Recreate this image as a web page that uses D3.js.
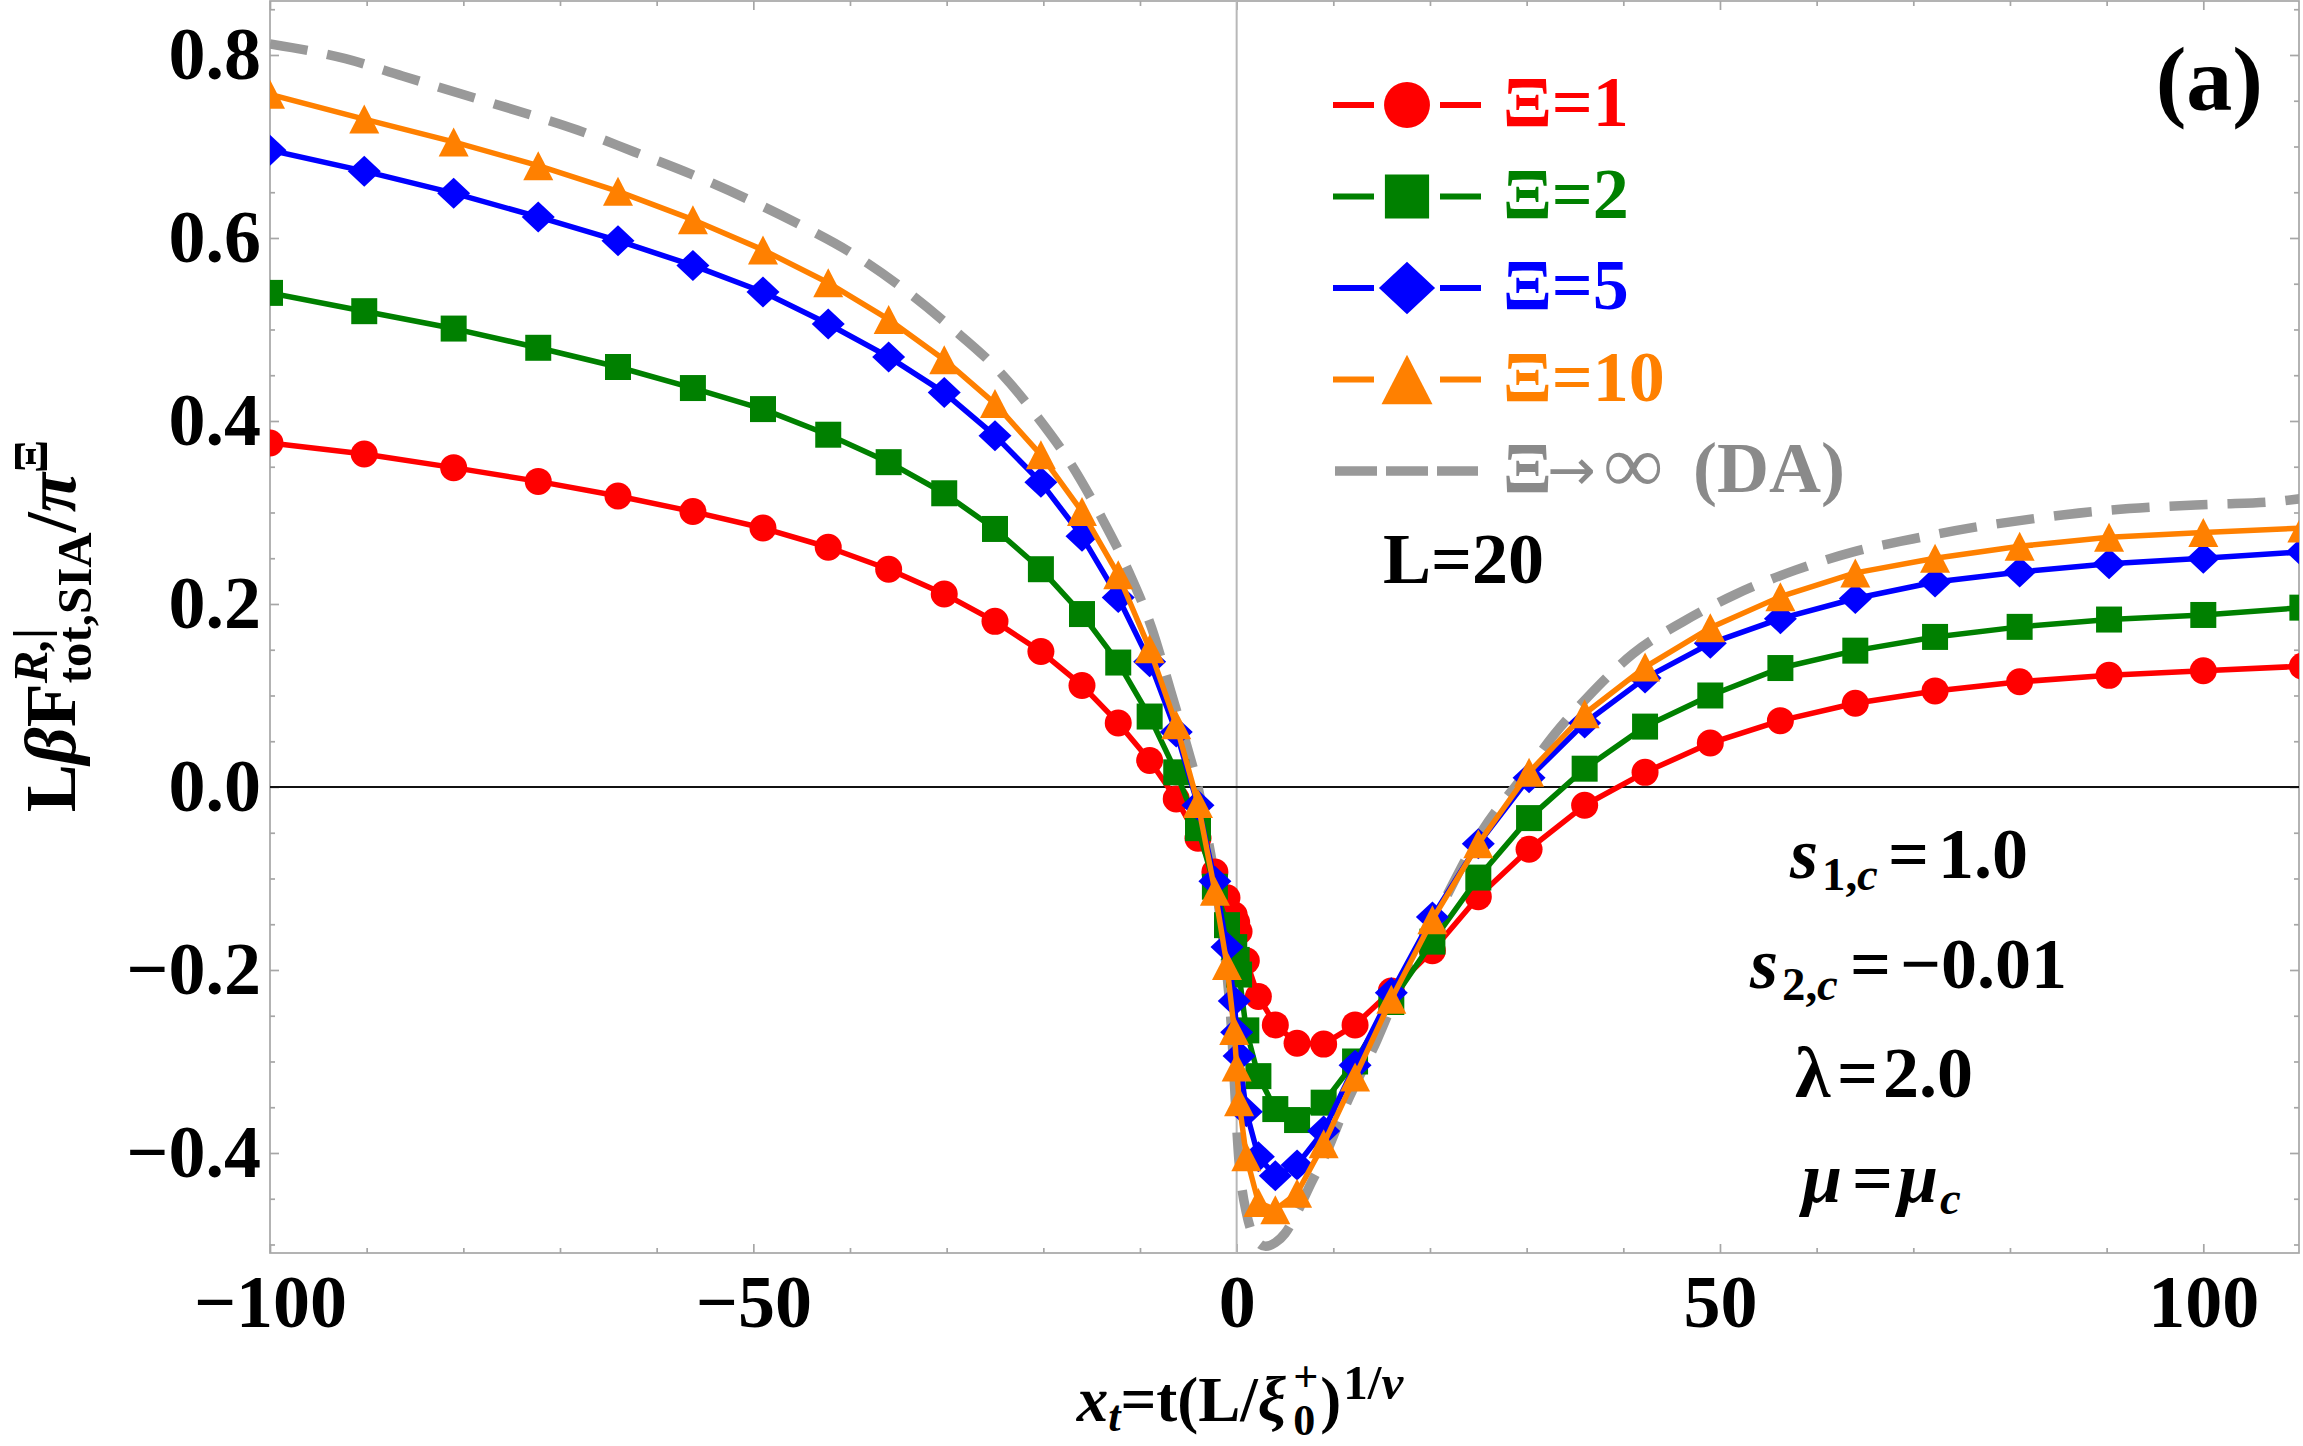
<!DOCTYPE html>
<html lang="en">
<head>
<meta charset="UTF-8">
<title>Scaling function of the free energy, L=20</title>
<script src="https://d3js.org/d3.v7.min.js"></script>
<style>
  body { margin: 0; background: #fff; }
  svg { display: block; }
</style>
</head>
<body>
<svg id="chart" width="2303" height="1446"></svg>
<script>
// x_t grid (shared by all four finite-Xi series)
const xt = [-100, -90.25, -81, -72.25, -64, -56.25, -49, -42.25, -36, -30.25,
  -25, -20.25, -16, -12.25, -9, -6.25, -4, -2.25, -1, -0.25,
  0,
  0.25, 1, 2.25, 4, 6.25, 9, 12.25, 16, 20.25, 25,
  30.25, 36, 42.25, 49, 56.25, 64, 72.25, 81, 90.25, 100,
  110.25];

const xi1 = [0.376, 0.364, 0.349, 0.334, 0.318, 0.301, 0.283, 0.262, 0.238, 0.211,
  0.181, 0.148, 0.111, 0.070, 0.029, -0.013, -0.056, -0.093, -0.121, -0.140,
  -0.148,
  -0.158, -0.190, -0.229, -0.260, -0.280, -0.281, -0.260, -0.223, -0.179, -0.120,
  -0.068, -0.020, 0.016, 0.048, 0.0725, 0.0915, 0.105, 0.115, 0.122, 0.127,
  0.132];

const xi2 = [0.540, 0.520, 0.501, 0.480, 0.459, 0.436, 0.413, 0.385, 0.355, 0.321,
  0.282, 0.238, 0.189, 0.136, 0.077, 0.016, -0.045, -0.109, -0.151, -0.175,
  -0.189,
  -0.205, -0.266, -0.316, -0.352, -0.364, -0.345, -0.300, -0.235, -0.169, -0.099,
  -0.034, 0.020, 0.066, 0.100, 0.130, 0.149, 0.164, 0.175, 0.183, 0.188,
  0.196];

const xi5 = [0.696, 0.673, 0.649, 0.623, 0.597, 0.570, 0.541, 0.506, 0.470, 0.431,
  0.384, 0.333, 0.274, 0.207, 0.137, 0.060, -0.020, -0.103, -0.175, -0.234,
  -0.268,
  -0.294, -0.355, -0.404, -0.425, -0.413, -0.376, -0.304, -0.225, -0.142, -0.062,
  0.010, 0.070, 0.119, 0.157, 0.184, 0.206, 0.224, 0.235, 0.244, 0.250,
  0.257];

const xi10 = [0.757, 0.730, 0.705, 0.679, 0.651, 0.620, 0.587, 0.551, 0.511, 0.467,
  0.419, 0.363, 0.301, 0.232, 0.151, 0.068, -0.018, -0.114, -0.195, -0.266,
  -0.306,
  -0.344, -0.404, -0.454, -0.462, -0.444, -0.390, -0.317, -0.232, -0.145, -0.062,
  0.016, 0.080, 0.131, 0.174, 0.208, 0.234, 0.250, 0.263, 0.273, 0.278,
  0.283];

// Xi -> infinity (DA) curve
const daX = [-100, -92.2, -86.3, -80.1, -74.1, -68.2, -62.3, -56.5, -50.7, -45.1,
  -39.6, -34.4, -29.5, -24.8, -20.8, -17.2, -14.0, -11.2, -8.8, -6.8,
  -5.1, -4, -3, -2.25, -1.5, -1, -0.5, -0.25, 0, 0.25,
  0.5, 1, 1.5, 2.25, 3, 4, 5, 6.25, 7.7, 9.4,
  11.2, 14.5, 17, 20.7, 25.3, 29.8, 32.9, 36.4, 41.0, 46.2,
  51.5, 57.8, 63.8, 69.9, 76.1, 82.3, 88.6, 94.9, 101.2, 107.5, 110];
const daY = [0.812, 0.796, 0.777, 0.757, 0.738, 0.718, 0.694, 0.670, 0.643, 0.614,
  0.582, 0.544, 0.502, 0.457, 0.407, 0.354, 0.295, 0.236, 0.174, 0.104,
  0.043, 0.0, -0.055, -0.10, -0.16, -0.205, -0.27, -0.32, -0.37, -0.41,
  -0.435, -0.465, -0.485, -0.498, -0.502, -0.498, -0.488, -0.465, -0.433, -0.397,
  -0.350, -0.277, -0.215, -0.140, -0.0495, 0.0139, 0.0578, 0.0992, 0.1456, 0.1808,
  0.210, 0.237, 0.257, 0.271, 0.2834, 0.293, 0.301, 0.306, 0.309, 0.312, 0.315];

const seriesNames = ["Ξ=1", "Ξ=2", "Ξ=5", "Ξ=10"];
const seriesColors = ["#ff0000", "#008000", "#0000ff", "#ff8000"];
const seriesShapes = ["circle", "square", "diamond", "triangle"];
const seriesValues = [xi1, xi2, xi5, xi10];

const xMajor = [-100, -50, 0, 50, 100];
const yMajor = [-0.4, -0.2, 0.0, 0.2, 0.4, 0.6, 0.8];

const FONT = "'Liberation Serif', 'Times New Roman', serif";
const frameColor = "#a6a6a6";
const daColor = "#999999";

const svg = d3.select("#chart")
  .attr("font-family", FONT)
  .attr("font-weight", "bold");

const pLeft = 270, pRight = 2299, pTop = 1, pBottom = 1253;

const x = d3.scaleLinear().domain([-100, 109.9]).range([pLeft, pRight]);
const y = d3.scaleLinear().domain([-0.5093, 0.8590]).range([pBottom, pTop]);

// frame
svg.append("rect")
  .attr("x", pLeft).attr("y", pTop)
  .attr("width", pRight - pLeft).attr("height", pBottom - pTop)
  .attr("fill", "none").attr("stroke", frameColor).attr("stroke-width", 1.7);

function styleAxis(g) {
  g.attr("font-family", FONT).attr("font-size", 74).attr("font-weight", "bold");
  g.select(".domain").remove();
  g.selectAll("line").attr("stroke", frameColor).attr("stroke-width", 1.7);
  g.selectAll("text").attr("fill", "#000");
}

const fmtX = d3.format("d");
const fmtY = d3.format(".1f");
const xMinor = d3.range(-100, 110, 10).filter(v => !xMajor.includes(v));
const yMinor = d3.range(-0.5, 0.86, 0.05).filter(v => !yMajor.some(m => Math.abs(m - v) < 1e-6));

// bottom / top
svg.append("g").attr("transform", `translate(0,${pBottom})`)
  .call(d3.axisBottom(x).tickValues(xMajor).tickSize(-9).tickPadding(21).tickFormat(fmtX))
  .call(styleAxis);
svg.append("g").attr("transform", `translate(0,${pBottom})`)
  .call(d3.axisBottom(x).tickValues(xMinor).tickSize(-5).tickFormat(""))
  .call(styleAxis);
svg.append("g").attr("transform", `translate(0,${pTop})`)
  .call(d3.axisTop(x).tickValues(xMajor).tickSize(-9).tickFormat(""))
  .call(styleAxis);
svg.append("g").attr("transform", `translate(0,${pTop})`)
  .call(d3.axisTop(x).tickValues(xMinor).tickSize(-5).tickFormat(""))
  .call(styleAxis);

// left / right
svg.append("g").attr("transform", `translate(${pLeft},0)`)
  .call(d3.axisLeft(y).tickValues(yMajor).tickSize(-9).tickPadding(9).tickFormat(fmtY))
  .call(styleAxis);
svg.append("g").attr("transform", `translate(${pLeft},0)`)
  .call(d3.axisLeft(y).tickValues(yMinor).tickSize(-5).tickFormat(""))
  .call(styleAxis);
svg.append("g").attr("transform", `translate(${pRight},0)`)
  .call(d3.axisRight(y).tickValues(yMajor).tickSize(-9).tickFormat(""))
  .call(styleAxis);
svg.append("g").attr("transform", `translate(${pRight},0)`)
  .call(d3.axisRight(y).tickValues(yMinor).tickSize(-5).tickFormat(""))
  .call(styleAxis);

// zero axes
svg.append("line")
  .attr("x1", x(0)).attr("x2", x(0)).attr("y1", pTop).attr("y2", pBottom)
  .attr("stroke", "#b8b8b8").attr("stroke-width", 2);
svg.append("line")
  .attr("x1", pLeft).attr("x2", pRight).attr("y1", y(0)).attr("y2", y(0))
  .attr("stroke", "#111").attr("stroke-width", 2);

// markers
function markerPath(shape, k) {
  if (shape === "circle") return d3.symbol(d3.symbolCircle, Math.PI * (13.5 * k) ** 2)();
  if (shape === "square") { const h = 13 * k; return `M${-h},${-h}H${h}V${h}H${-h}Z`; }
  if (shape === "diamond") { const w = 16.5 * k, h = 15.5 * k; return `M0,${-h}L${w},0L0,${h}L${-w},0Z`; }
  const w = 15 * k, h = 14.5 * k;
  return `M0,${-h}L${w},${h}L${-w},${h}Z`;
}

svg.append("clipPath").attr("id", "plotClip")
  .append("rect").attr("x", pLeft).attr("y", pTop)
  .attr("width", pRight - pLeft).attr("height", pBottom - pTop);

const plot = svg.append("g").attr("clip-path", "url(#plotClip)");

// dashed DA curve
const daLine = d3.line().x((d, i) => x(daX[i])).y(d => y(d)).curve(d3.curveMonotoneX);
plot.append("path")
  .datum(daY)
  .attr("d", daLine)
  .attr("fill", "none")
  .attr("stroke", daColor)
  .attr("stroke-width", 9.5)
  .attr("stroke-dasharray", "38,20");

const line = d3.line().x((d, i) => x(xt[i])).y(d => y(d));

seriesValues.forEach((vals, s) => {
  const g = plot.append("g");
  g.append("path")
    .datum(vals)
    .attr("d", line)
    .attr("fill", "none")
    .attr("stroke", seriesColors[s])
    .attr("stroke-width", 5.5)
    .attr("stroke-linejoin", "round");
  g.selectAll("path.mk")
    .data(vals)
    .join("path")
    .attr("class", "mk")
    .attr("d", markerPath(seriesShapes[s], 1))
    .attr("transform", (d, i) => `translate(${x(xt[i])},${y(d)})`)
    .attr("fill", seriesColors[s]);
});

// legend
const legendBase = [126, 217.5, 309, 400.5, 492];
const legend = svg.append("g");
seriesNames.forEach((name, s) => {
  const cy = legendBase[s] - 21;
  const row = legend.append("g");
  row.append("line").attr("x1", 1333).attr("x2", 1374).attr("y1", cy).attr("y2", cy)
    .attr("stroke", seriesColors[s]).attr("stroke-width", 6);
  row.append("line").attr("x1", 1440).attr("x2", 1481).attr("y1", cy).attr("y2", cy)
    .attr("stroke", seriesColors[s]).attr("stroke-width", 6);
  row.append("path").attr("d", markerPath(seriesShapes[s], 1.7))
    .attr("transform", `translate(1407,${cy})`).attr("fill", seriesColors[s]);
  row.append("text").attr("x", 1503).attr("y", legendBase[s])
    .attr("font-size", 72).attr("fill", seriesColors[s]).text(name);
});
{
  const cy = legendBase[4] - 21;
  const b = legendBase[4];
  legend.append("line").attr("x1", 1335).attr("x2", 1478).attr("y1", cy).attr("y2", cy)
    .attr("stroke", daColor).attr("stroke-width", 9.5).attr("stroke-dasharray", "42,9");
  const lg = legend.append("g").attr("fill", "#8a8a8a");
  lg.append("text").attr("x", 1503).attr("y", b).attr("font-size", 72).text("Ξ");
  lg.append("text").attr("x", 1547).attr("y", b - 2).attr("font-size", 58)
    .attr("font-family", "'DejaVu Sans', sans-serif").attr("font-weight", "normal").text("→");
  lg.append("text").attr("x", 1604).attr("y", b).attr("font-size", 82).text("∞");
  lg.append("text").attr("x", 1693).attr("y", b).attr("font-size", 72).text("(DA)");
}

svg.append("text").attr("x", 1383).attr("y", 583).attr("font-size", 72).text("L=20");
svg.append("text").attr("x", 2263).attr("y", 110).attr("font-size", 92)
  .attr("text-anchor", "end").text("(a)");

// rich text helper: runs of text with sub/superscripts
function rich(parent, parts, size) {
  const g = parent.append("g");
  let pos = 0, pend = null;
  parts.forEach(p => {
    let px = (pend ? pend.x : pos) + (p.gap || 0);
    if (p.at !== undefined) px = p.at;
    const t = g.append("text")
      .attr("x", px).attr("y", p.dy || 0)
      .attr("font-size", size * (p.s || 1))
      .attr("font-style", p.i ? "italic" : null)
      .text(p.t);
    const w = t.node().getComputedTextLength();
    if (p.stack) pend = {x: px, w: w};
    else if (pend) { pos = px + Math.max(w, pend.w); pend = null; }
    else pos = px + w;
  });
  return {g: g, width: pos};
}

// y label
{
  const wrap = svg.append("g").attr("transform", "translate(75,626) rotate(-90)");
  const r = rich(wrap, [
    {t: "L"}, {t: "β", i: 1}, {t: "F"},
    {t: "R,|", s: 0.68, dy: -28, i: 1, stack: 1},
    {t: "tot,SIA", s: 0.68, dy: 16},
    {t: "/"}, {t: "π", i: 1},
    {t: "Ξ", s: 0.68, dy: -28}
  ], 72);
  r.g.attr("transform", `translate(${-r.width / 2},0)`);
}

// x label
{
  const wrap = svg.append("g").attr("transform", "translate(1240,1421)");
  const r = rich(wrap, [
    {t: "x", i: 1}, {t: "t", i: 1, s: 0.7, dy: 10},
    {t: "=t(L/"}, {t: "ξ", i: 1},
    {t: "+", s: 0.7, dy: -30, stack: 1, gap: 7},
    {t: "0", s: 0.7, dy: 14},
    {t: ")", gap: 2},
    {t: "1/", s: 0.78, dy: -22, gap: 2}, {t: "ν", i: 1, s: 0.78, dy: -22}
  ], 63);
  r.g.attr("transform", `translate(${-r.width / 2},0)`);
}

// parameter annotations (part offsets)
const notes = [
  {x: 1790, y: 878, parts: [{t: "s", i: 1, at: 0}, {t: "1,", s: 0.65, dy: 12, at: 32}, {t: "c", i: 1, s: 0.65, dy: 12}, {t: "=", at: 98}, {t: "1.0", at: 148}]},
  {x: 1750, y: 988, parts: [{t: "s", i: 1, at: 0}, {t: "2,", s: 0.65, dy: 12, at: 32}, {t: "c", i: 1, s: 0.65, dy: 12}, {t: "=", at: 100}, {t: "−0.01", at: 150}]},
  {x: 1795, y: 1097, parts: [{t: "λ", at: 0}, {t: "=", at: 42}, {t: "2.0", at: 88}]},
  {x: 1802, y: 1202, parts: [{t: "μ", i: 1, at: 0}, {t: "=", at: 50}, {t: "μ", i: 1, at: 96}, {t: "c", i: 1, s: 0.65, dy: 12, at: 138}]}
];
notes.forEach(n => {
  const wrap = svg.append("g").attr("transform", `translate(${n.x},${n.y})`);
  rich(wrap, n.parts, 72);
});
</script>
</body>
</html>
